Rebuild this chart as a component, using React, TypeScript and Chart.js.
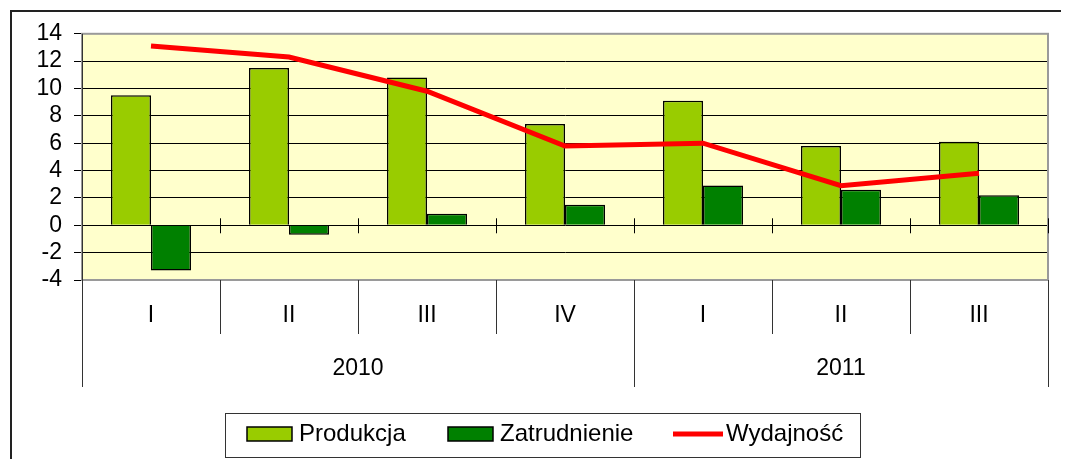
import React, { useEffect, useRef } from "react";
import { Chart, registerables } from "chart.js";

Chart.register(...registerables);

// ---- data ----
const quarters = ["I", "II", "III", "IV", "I", "II", "III"];
const years = ["2010", "2011"];
const yearSpans = [4, 3];
const produkcja = [9.5, 11.5, 10.8, 7.4, 9.1, 5.8, 6.1];
const zatrudnienie = [-3.3, -0.7, 0.85, 1.5, 2.9, 2.6, 2.2];
const wydajnosc = [13.1, 12.3, 9.8, 5.8, 6.0, 2.9, 3.8];
const yMin = -4;
const yMax = 14;
const yStep = 2;

const FONT = '"Liberation Sans", Arial, sans-serif';
const FONT_SIZE = 23;
const COL_PROD = "#99CC00";
const COL_ZATR = "#008000";
const COL_WYD = "#FF0000";

const decorPlugin = {
  id: "decor",
  beforeDraw(chart: any) {
    const { ctx, chartArea: a, width, height } = chart;
    ctx.save();
    ctx.fillStyle = "#ffffff";
    ctx.fillRect(0, 0, width, height);
    ctx.fillStyle = "#FFFFCC";
    ctx.fillRect(a.left, a.top, a.right - a.left, a.bottom - a.top);
    ctx.restore();
  },
  afterDatasetsDraw(chart: any) {
    const { ctx, chartArea: a } = chart;
    const xs = chart.scales.x;
    const ys = chart.scales.y;
    const n = quarters.length;
    const cw = (a.right - a.left) / n;
    const edge = (i: number) => xs.getPixelForValue(i) - cw / 2;
    ctx.save();

    // plot border
    ctx.strokeStyle = "#9a9a9a";
    ctx.lineWidth = 2;
    ctx.strokeRect(a.left, a.top, a.right - a.left, a.bottom - a.top);

    // zero-line ticks
    const y0 = ys.getPixelForValue(0);
    ctx.strokeStyle = "#000";
    ctx.lineWidth = 1;
    ctx.beginPath();
    for (let i = 1; i <= n; i++) {
      const x = Math.round(i === n ? a.right : edge(i)) + 0.5;
      ctx.moveTo(x, y0 - 7);
      ctx.lineTo(x, y0 + 8);
    }
    ctx.stroke();

    // separators
    const yearBounds: number[] = [0];
    let acc = 0;
    yearSpans.forEach((s) => {
      acc += s;
      yearBounds.push(acc);
    });
    ctx.strokeStyle = "#333";
    ctx.lineWidth = 1;
    ctx.beginPath();
    for (let i = 1; i < n; i++) {
      if (yearBounds.includes(i)) continue;
      const x = Math.round(edge(i)) + 0.5;
      ctx.moveTo(x, a.bottom);
      ctx.lineTo(x, a.bottom + 54);
    }
    yearBounds.forEach((b) => {
      const x = Math.round(b === n ? a.right : edge(b)) + 0.5;
      ctx.moveTo(x, b === 0 ? a.top : a.bottom);
      ctx.lineTo(x, a.bottom + 107);
    });
    ctx.stroke();

    // x labels
    ctx.fillStyle = "#000";
    ctx.font = `${FONT_SIZE}px ${FONT}`;
    ctx.textAlign = "center";
    ctx.textBaseline = "middle";
    quarters.forEach((q, i) => {
      ctx.fillText(q, xs.getPixelForValue(i), a.bottom + 36);
    });
    let start = 0;
    years.forEach((yr, k) => {
      const end = start + yearSpans[k];
      const l = edge(start);
      const r = end === n ? a.right : edge(end);
      ctx.fillText(yr, (l + r) / 2, a.bottom + 89);
      start = end;
    });

    // legend
    const lx = 217.5, ly = 405.5, lw = 635, lh = 44;
    ctx.strokeStyle = "#333";
    ctx.lineWidth = 1;
    ctx.strokeRect(lx, ly, lw, lh);
    const cy = 426;
    const items = chart.data.datasets;
    const starts = [239, 440, 665];
    ctx.font = `24px ${FONT}`;
    ctx.textAlign = "left";
    items.forEach((ds: any, i: number) => {
      const x = starts[i];
      if (ds.type === "line") {
        ctx.strokeStyle = ds.borderColor;
        ctx.lineWidth = 5;
        ctx.beginPath();
        ctx.moveTo(x, cy);
        ctx.lineTo(x + 50, cy);
        ctx.stroke();
        ctx.fillStyle = "#000";
        ctx.fillText(ds.label, x + 53, cy);
      } else {
        ctx.fillStyle = ds.backgroundColor;
        ctx.fillRect(x, cy - 7, 45, 14);
        ctx.strokeStyle = "#000";
        ctx.lineWidth = 1.5;
        ctx.strokeRect(x, cy - 7, 45, 14);
        ctx.fillStyle = "#000";
        ctx.fillText(ds.label, x + 52, cy);
      }
    });

    // outer frame
    ctx.strokeStyle = "#222";
    ctx.lineWidth = 2;
    ctx.strokeRect(3, 3, chart.width + 20, chart.height + 20);

    ctx.restore();
  },
};

export default function App() {
  const ref = useRef<HTMLCanvasElement | null>(null);
  useEffect(() => {
    if (!ref.current) return;
    const chart = new Chart(ref.current, {
      type: "bar",
      data: {
        labels: quarters,
        datasets: [
          {
            type: "bar",
            label: "Produkcja",
            data: produkcja,
            backgroundColor: COL_PROD,
            borderColor: "#000",
            borderWidth: 1.5,
            order: 1,
            barPercentage: 1,
            categoryPercentage: 0.58,
          },
          {
            type: "bar",
            label: "Zatrudnienie",
            data: zatrudnienie,
            backgroundColor: COL_ZATR,
            borderColor: "#000",
            borderWidth: 1.5,
            order: 1,
            barPercentage: 1,
            categoryPercentage: 0.58,
          },
          {
            type: "line",
            label: "Wydajność",
            data: wydajnosc,
            borderColor: COL_WYD,
            backgroundColor: COL_WYD,
            borderWidth: 5,
            pointRadius: 0,
            tension: 0,
            order: 0,
          } as any,
        ],
      },
      options: {
        responsive: false,
        animation: false,
        layout: { padding: { top: 24, right: 13, left: 0, bottom: 0 } },
        plugins: { legend: { display: false }, tooltip: { enabled: false } },
        scales: {
          x: {
            offset: true,
            grid: { display: false },
            border: { display: false },
            ticks: { display: false },
            afterFit(scale: any) {
              scale.height = 179;
            },
          },
          y: {
            min: yMin,
            max: yMax,
            ticks: {
              stepSize: yStep,
              autoSkip: false,
              color: "#000",
              padding: 12,
              font: { family: FONT, size: FONT_SIZE },
            },
            grid: { color: "#000", lineWidth: 1, tickLength: 8, drawTicks: true },
            border: { display: true, color: "#000", width: 1 },
            afterFit(scale: any) {
              scale.width = 74;
            },
          },
        },
      },
      plugins: [decorPlugin],
    });
    return () => chart.destroy();
  }, []);
  return (
    <canvas
      ref={ref}
      width={1053}
      height={451}
      style={{ display: "block", width: 1053, height: 451 }}
    />
  );
}
